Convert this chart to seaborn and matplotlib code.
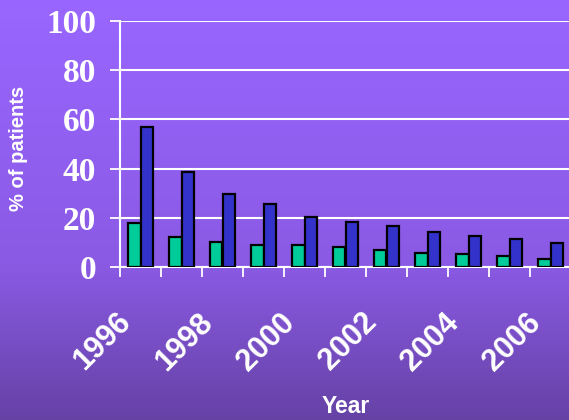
import numpy as np
import pandas as pd
import matplotlib
matplotlib.use("Agg")
import matplotlib.pyplot as plt
import matplotlib.transforms as mtransforms
import seaborn as sns

# data
years = [1996, 1997, 1998, 1999, 2000, 2001, 2002, 2003, 2004, 2005, 2006]
green_vals = [18, 12.2, 10.2, 9.1, 9.1, 8.3, 7.0, 5.8, 5.2, 4.5, 3.3]
blue_vals = [57, 38.7, 29.8, 25.5, 20.4, 18.4, 16.5, 14.1, 12.7, 11.5, 9.8]
year_labels = ["1996", "", "1998", "", "2000", "", "2002", "", "2004", "", "2006"]

df = pd.DataFrame({
    "year": years * 2,
    "pct": green_vals + blue_vals,
    "group": ["a"] * len(years) + ["b"] * len(years),
})

sns.set_style("white")
plt.rcParams["font.family"] = ["Liberation Sans", "DejaVu Sans"]

fig = plt.figure(figsize=(5.69, 4.2), dpi=100)

# purple gradient background
bg = fig.add_axes([0, 0, 1, 1], zorder=-10)
rows = np.linspace(0, 1, 420)
stops = [0, 0.63, 1]
grad = np.zeros((420, 1, 3))
for i, (c0, c1, c2) in enumerate(zip((153, 102, 255), (138, 90, 228), (102, 66, 165))):
    grad[:, 0, i] = np.interp(rows, stops, [c0, c1, c2]) / 255
bg.imshow(grad, aspect="auto", extent=[0, 1, 0, 1])
bg.axis("off")

ax = fig.add_axes([120 / 569, 153 / 420, 451 / 569, 246 / 420])
ax.set_facecolor("none")

sns.barplot(data=df, x="year", y="pct", hue="group", palette=["#00CC99", "#3333CC"],
            saturation=1, width=0.6, edgecolor="black", linewidth=1.6,
            legend=False, ax=ax, zorder=3)

ax.set_ylim(0, 100)
ax.set_xlim(-0.5, 10.5)
ax.set_yticks([0, 20, 40, 60, 80, 100])
ax.set_yticklabels(["0", "20", "40", "60", "80", "100"],
                   fontfamily="Liberation Serif", fontweight="bold", fontsize=24, color="white")
ax.tick_params(axis="y", length=7.2, width=1.3, color="white", pad=10, left=True)
ax.yaxis.grid(True, color="white", linewidth=1.5, zorder=0)
ax.set_axisbelow(True)

ax.set_xticks(range(len(years)))
ax.set_xticklabels(year_labels, rotation=45, ha="right", rotation_mode="anchor",
                   fontweight="bold", fontsize=22, color="white")
ax.tick_params(axis="x", which="major", length=0, pad=29)
ax.set_xticks(np.arange(-0.5, 11, 1), minor=True)
ax.tick_params(axis="x", which="minor", length=7.2, width=1.3, color="white", bottom=True)
shift = mtransforms.ScaledTranslation(-0.25, 0, fig.dpi_scale_trans)
for lbl in ax.get_xticklabels():
    lbl.set_transform(lbl.get_transform() + shift)

for side in ["top", "right"]:
    ax.spines[side].set_visible(False)
for side in ["left", "bottom"]:
    ax.spines[side].set_color("white")
    ax.spines[side].set_linewidth(1.5)

ax.set_ylabel("% of patients", fontweight="bold", fontsize=14.5, color="white")
ax.yaxis.set_label_coords(-0.204, 0.48)
ax.set_xlabel("Year", fontweight="bold", fontsize=16.5, color="white")
ax.xaxis.set_label_coords(0.5, -0.522)

fig.savefig("out.png", dpi=100)
